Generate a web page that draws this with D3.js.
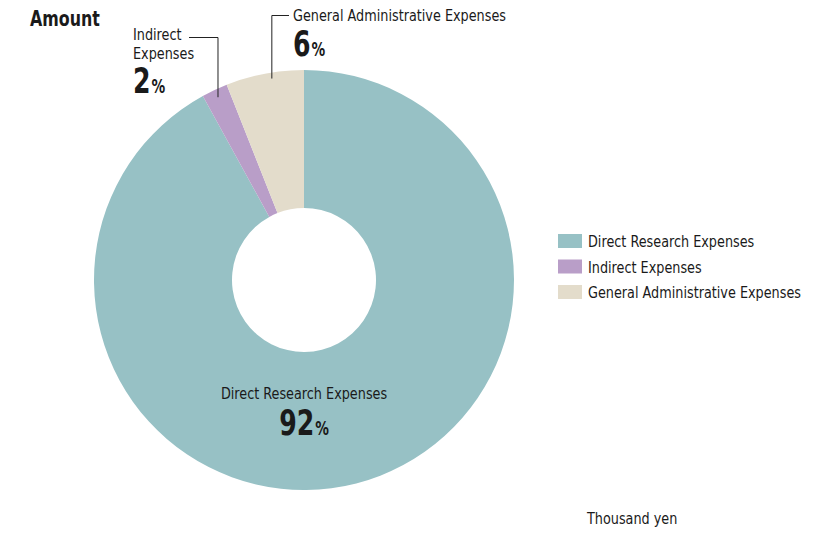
<!DOCTYPE html>
<html>
<head>
<meta charset="utf-8">
<script src="https://cdn.jsdelivr.net/npm/d3@7"></script>
<style>
  html, body { margin: 0; padding: 0; background: #fff; }
  svg { display: block; }
  text { font-family: "DejaVu Sans Condensed", "Liberation Sans Narrow", "Roboto", sans-serif; fill: #1a1a1a; }
</style>
</head>
<body>
<svg id="chart" width="830" height="534"></svg>
<script>
// Expense breakdown (share of total, %)
const categories = ["Direct Research Expenses", "Indirect Expenses", "General Administrative Expenses"];
const shares = [92, 2, 6];
const colors = ["#97c1c5", "#b99ec8", "#e3dccb"];

const svg = d3.select("#chart");
const cx = 304, cy = 280, outerR = 210, innerR = 72;

const K = 0.875;  // horizontal squeeze for the condensed face
const FS = 16.3;  // body text size

// Text placed at (x, y) and narrowed horizontally by k
function label(x, y, str, opts = {}) {
  return svg.append("text")
    .attr("transform", `translate(${x},${y}) scale(${opts.k || K},1)`)
    .attr("text-anchor", opts.anchor || "start")
    .attr("font-size", opts.size || FS)
    .attr("font-weight", opts.weight || "normal")
    .text(str);
}

// Title
label(30, 26, "Amount", { size: 20.5, weight: "bold", k: 0.86 });

// Donut
const pie = d3.pie().value(d => d.value).sort(null);
const arc = d3.arc().innerRadius(innerR).outerRadius(outerR);
const data = categories.map((c, i) => ({ name: c, value: shares[i], color: colors[i] }));
const arcs = pie(data);

const g = svg.append("g").attr("transform", `translate(${cx},${cy})`);
g.selectAll("path").data(arcs).enter().append("path")
  .attr("d", arc).attr("fill", d => d.data.color);

// Percentage label: big bold number followed by a smaller % sign
function pct(x, y, value, anchor) {
  const kNum = 0.8, kPct = 0.8;
  const num = label(0, y, String(value), { size: 35, weight: "bold", k: kNum });
  const sign = label(0, y, "%", { size: 19, weight: "bold", k: kPct });
  const wNum = num.node().getComputedTextLength() * kNum;
  const wPct = sign.node().getComputedTextLength() * kPct;
  const gap = 1;
  const x0 = anchor === "middle" ? x - (wNum + gap + wPct) / 2 : x;
  num.attr("transform", `translate(${x0},${y}) scale(${kNum},1)`);
  sign.attr("transform", `translate(${x0 + wNum + gap},${y}) scale(${kPct},1)`);
}

// Direct research label (inside the large slice)
label(cx, 399, categories[0], { anchor: "middle" });
pct(cx, 435, shares[0], "middle");

// Leader lines for the two small slices
function slicePoint(a, t, r) {
  const ang = a.startAngle + t * (a.endAngle - a.startAngle);
  return [cx + r * Math.sin(ang), cy - r * Math.cos(ang)];
}
const pInd = slicePoint(arcs[1], 0.5, 202);
const pGen = slicePoint(arcs[2], 0.58, 204);

svg.append("path")
  .attr("d", `M189,37.5 H${pInd[0]} V${pInd[1]}`)
  .attr("fill", "none").attr("stroke", "#222").attr("stroke-width", 1);
svg.append("path")
  .attr("d", `M289,15.5 H${pGen[0]} V${pGen[1]}`)
  .attr("fill", "none").attr("stroke", "#222").attr("stroke-width", 1);

// Indirect label, wrapped over two lines
label(133, 40, "Indirect");
label(133, 59, "Expenses");
pct(133, 93, shares[1], "start");

// General administrative label
label(293, 21, categories[2]);
pct(293, 56, shares[2], "start");

// Legend
const legend = svg.append("g").attr("transform", "translate(558,234)");
const rows = legend.selectAll("g").data(data).enter().append("g")
  .attr("transform", (d, i) => `translate(0,${i * 25.5})`);
rows.append("rect").attr("width", 24).attr("height", 14).attr("fill", d => d.color);
rows.append("text")
  .attr("transform", `translate(30,13) scale(${K},1)`)
  .attr("font-size", FS).text(d => d.name);

// Unit note
label(587, 524, "Thousand yen");
</script>
</body>
</html>
